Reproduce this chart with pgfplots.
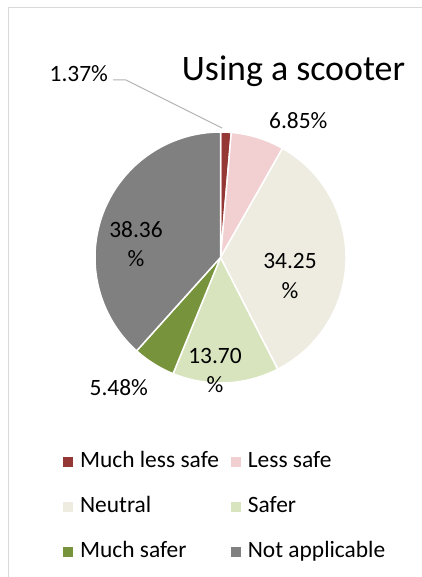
\documentclass[border=0pt]{standalone}
\usepackage{pgfplots}
\pgfplotsset{compat=1.18}
\usepackage{pgfplotstable}
\usepackage{fontspec}
\setmainfont{Carlito}
\definecolor{c1}{HTML}{953735}
\definecolor{c2}{HTML}{F2D0D1}
\definecolor{c3}{HTML}{EEECE1}
\definecolor{c4}{HTML}{D7E4BD}
\definecolor{c5}{HTML}{77933C}
\definecolor{c6}{HTML}{808080}
\definecolor{frame}{HTML}{D9D9D9}
\pgfplotstableread{
label value color
{Much less safe} 1.37 c1
{Less safe} 6.85 c2
{Neutral} 34.25 c3
{Safer} 13.70 c4
{Much safer} 5.48 c5
{Not applicable} 38.36 c6
}\piedata
\begin{document}
\begin{tikzpicture}
\begin{axis}[
  name=ax,
  width=422bp, height=577bp, scale only axis,
  xmin=0, xmax=422, ymin=0, ymax=577, y dir=reverse,
  hide axis, clip=false,
  legend columns=2,
  legend cell align=left,
  legend image code/.code={\fill[#1] (0bp,-4.5bp) rectangle (9bp,4.5bp);},
  legend style={at={(axis cs:60,447)}, anchor=north west, draw=none, fill=none,
    font=\fontsize{23.5}{28}\selectfont,
    nodes={text height=16bp, text depth=5bp, inner sep=2bp},
    row sep=20bp, column sep=5.5bp,
    /tikz/every even column/.append style={column sep=10bp}},
]
% frame
\draw[frame, line width=1.5bp] (axis cs:8.5,577) -- (axis cs:8.5,7.5) -- (axis cs:422,7.5);
% pie slices
\def\cum{0}
\pgfplotsforeachungrouped \i in {0,...,5}{%
  \pgfplotstablegetelem{\i}{value}\of\piedata \let\v\pgfplotsretval
  \pgfplotstablegetelem{\i}{color}\of\piedata \let\c\pgfplotsretval
  \pgfmathsetmacro\sa{90-3.6*\cum}%
  \pgfmathsetmacro\ea{90-3.6*(\cum+\v)}%
  \edef\temp{\noexpand\fill[\c, draw=white, line width=1.5bp, line join=round] (axis cs:220.5,257.5) -- ([shift={(\sa:125.5bp)}]axis cs:220.5,257.5) arc[start angle=\sa, end angle=\ea, radius=125.5bp] -- cycle;}%
  \temp
  \pgfmathsetmacro\cum{\cum+\v}%
}
\addlegendimage{c1}\addlegendentry{Much less safe}
\addlegendimage{c2}\addlegendentry{Less safe}
\addlegendimage{c3}\addlegendentry{Neutral}
\addlegendimage{c4}\addlegendentry{Safer}
\addlegendimage{c5}\addlegendentry{Much safer}
\addlegendimage{c6}\addlegendentry{Not applicable}
% title
\node[anchor=base, font=\fontsize{36}{40}\selectfont, inner sep=0pt] at (axis cs:293.5,80.7) {Using a scooter};
% labels
\begin{scope}[every node/.style={font=\fontsize{23.5}{29.5}\selectfont, inner sep=0pt, align=center}]
\node at (axis cs:78.8,73.7) {1.37\%};
\node at (axis cs:298.3,120.7) {6.85\%};
\node at (axis cs:290,276) {34.25\\\%};
\node at (axis cs:215,370.3) {13.70\\\%};
\node at (axis cs:118.8,387.2) {5.48\%};
\node at (axis cs:136,244) {38.36\\\%};
\end{scope}
\draw[gray!60, line width=1bp] (axis cs:113,80) -- (axis cs:126,80) -- (axis cs:222,128);
\end{axis}
\pgfresetboundingbox
\path (ax.south west) rectangle (ax.north east);
\end{tikzpicture}
\end{document}
